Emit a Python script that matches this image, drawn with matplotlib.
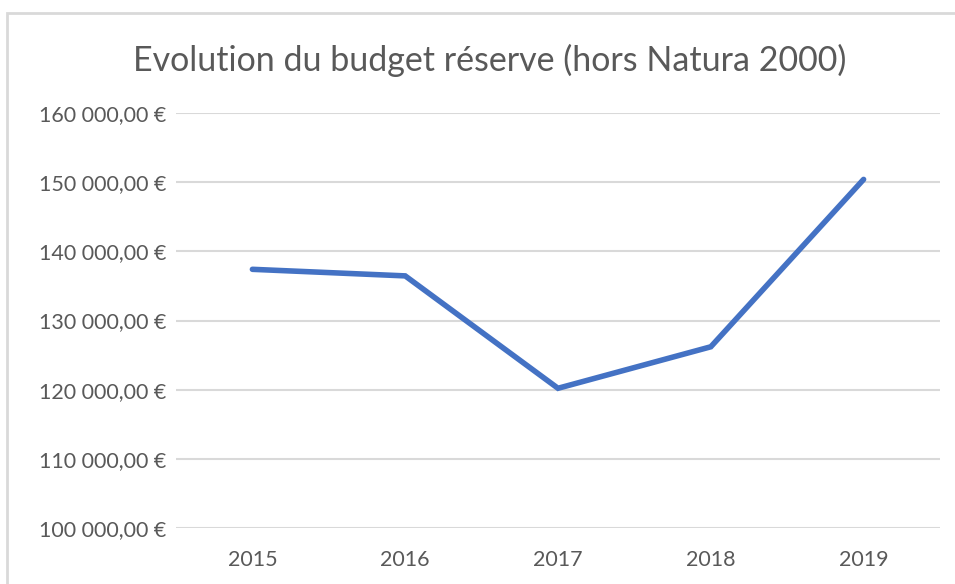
import matplotlib.pyplot as plt
from matplotlib.patches import Rectangle

years = ['2015', '2016', '2017', '2018', '2019']
budget = [137400, 136450, 120200, 126200, 150400]
yticks = [100000, 110000, 120000, 130000, 140000, 150000, 160000]

def euro(v):
    s = f"{v:,.2f}".replace(',', ' ').replace('.', ',')
    return s + ' €'

plt.rcParams['font.family'] = ['Lato', 'DejaVu Sans']

fig = plt.figure(figsize=(9.55, 5.84), dpi=100)
ax = fig.add_axes([176/955, 1 - 528/584, (940 - 176)/955, (528 - 113)/584])

# chart border
fig.add_artist(Rectangle((7/955, -0.1), 1.2, 1 - 13/584 + 0.1, transform=fig.transFigure,
                         fill=False, edgecolor='#d9d9d9', linewidth=2))

x = list(range(len(years)))
ax.plot(x, budget, color='#4472C4', linewidth=4, solid_capstyle='round', solid_joinstyle='miter', zorder=3)

ax.set_xlim(-0.5, len(years) - 0.5)
ax.set_ylim(yticks[0], yticks[-1])
ax.set_yticks(yticks)
ax.set_yticklabels([euro(v) for v in yticks])
ax.set_xticks(x)
ax.set_xticklabels(years)

ax.grid(axis='y', color='#d9d9d9', linewidth=1.5)
ax.set_axisbelow(True)
for sp in ax.spines.values():
    sp.set_visible(False)
ax.tick_params(axis='both', length=0, labelsize=15.5, colors='#595959')
ax.tick_params(axis='y', pad=7)
ax.tick_params(axis='x', pad=16)

fig.text(490/955, 1 - 60/584, 'Evolution du budget réserve (hors Natura 2000)',
         ha='center', va='center', fontsize=24.5, color='#595959')

fig.savefig('out.png', dpi=100)
